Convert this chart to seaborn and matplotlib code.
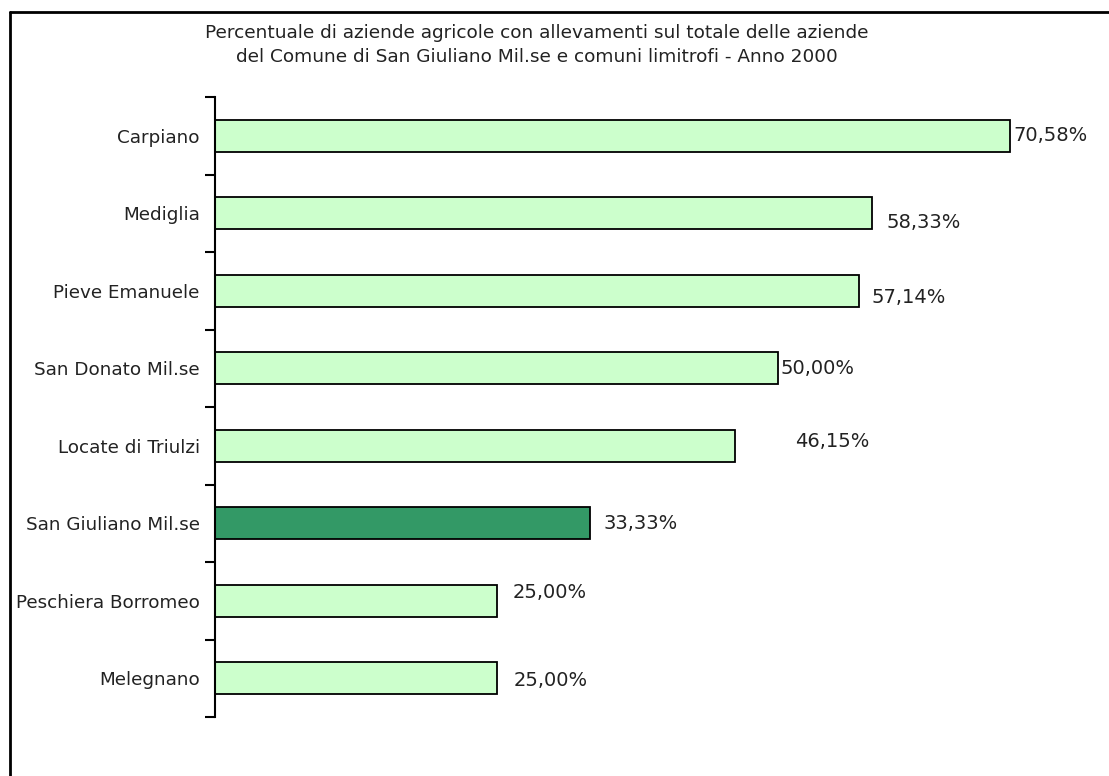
import matplotlib
matplotlib.use("Agg")
import matplotlib.pyplot as plt
import seaborn as sns
import pandas as pd
from matplotlib.lines import Line2D

sns.set_theme(style="white")
plt.rcParams['font.family'] = ['DejaVu Sans']

comuni = ["Carpiano", "Mediglia", "Pieve Emanuele", "San Donato Mil.se",
          "Locate di Triulzi", "San Giuliano Mil.se", "Peschiera Borromeo", "Melegnano"]
percentuali = [70.58, 58.33, 57.14, 50.00, 46.15, 33.33, 25.00, 25.00]
etichette = ["70,58%", "58,33%", "57,14%", "50,00%", "46,15%", "33,33%", "25,00%", "25,00%"]
evidenziato = "San Giuliano Mil.se"
titolo = ("Percentuale di aziende agricole con allevamenti sul totale delle aziende\n"
          "del Comune di San Giuliano Mil.se e comuni limitrofi - Anno 2000")

# label offsets in pixels (dx, dy) relative to bar end / center
label_offsets = [(3, 0), (14, -9), (13, -7), (2, 0), (60, 4), (13, 0), (16, 8), (17, -2)]

df = pd.DataFrame({"comune": comuni, "perc": percentuali})
df["gruppo"] = ["evid" if c == evidenziato else "altri" for c in comuni]

fig = plt.figure(figsize=(11.09, 7.76), dpi=100)
ax = fig.add_axes([215/1109, 59/776, 885/1109, 620/776])

sns.barplot(data=df, x="perc", y="comune", hue="gruppo", order=comuni,
            palette={"altri": "#CCFFCC", "evid": "#339966"}, dodge=False,
            width=0.41, edgecolor="black", linewidth=1.3, legend=False, ax=ax,
            saturation=1)

ax.set_xlim(0, 885/11.264)
ax.set_ylim(len(comuni) - 0.5, -0.5)
ax.set_xlabel("")
ax.set_ylabel("")
ax.set_xticks([])
for s in ["top", "right", "bottom"]:
    ax.spines[s].set_visible(False)
ax.spines["left"].set_color("black")
ax.spines["left"].set_linewidth(1.5)

ax.set_yticks(range(len(comuni)))
ax.set_yticklabels(comuni, fontsize=13.2, color="#222222")
ax.tick_params(axis="y", which="major", length=0, pad=11)
ax.set_yticks([i - 0.5 for i in range(len(comuni) + 1)], minor=True)
ax.tick_params(axis="y", which="minor", length=7, width=1.5, color="black", left=True, direction="out")

for i, (v, lab) in enumerate(zip(percentuali, etichette)):
    dx, dy = label_offsets[i]
    ax.annotate(lab, xy=(v, i), xytext=(dx, dy), textcoords="offset pixels",
                ha="left", va="center", fontsize=14, color="#222222")

fig.text(537/1109, 1 - 45/776, titolo, ha="center", va="center", fontsize=13.3,
         color="#222222", linespacing=1.5)

fig.add_artist(Line2D([10/1109, 10/1109], [0, 1 - 12/776], transform=fig.transFigure,
                      color="black", linewidth=2))
fig.add_artist(Line2D([10/1109, 1], [1 - 12/776, 1 - 12/776], transform=fig.transFigure,
                      color="black", linewidth=2))

fig.savefig("out.png", dpi=100, facecolor="white")
